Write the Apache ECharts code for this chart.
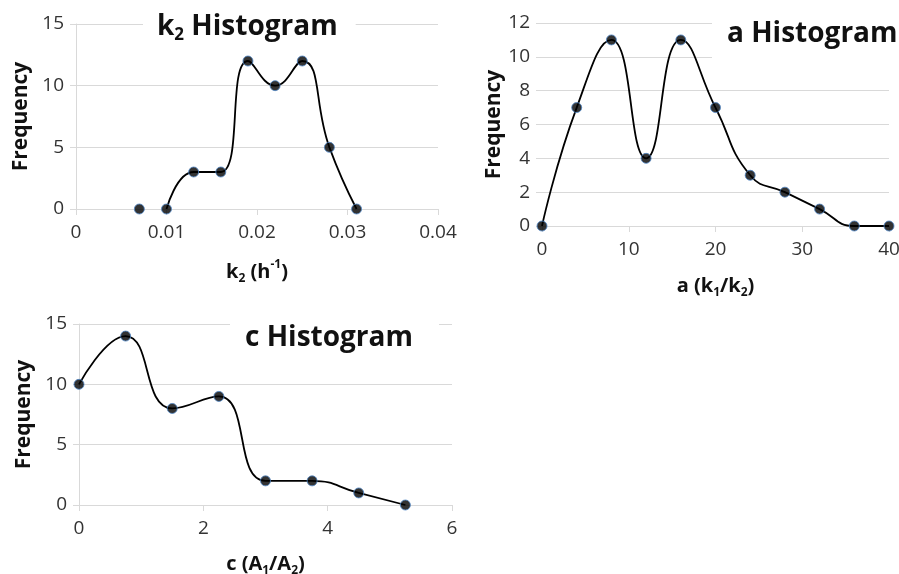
<!DOCTYPE html>
<html>
<head>
<meta charset="utf-8">
<script src="https://cdn.jsdelivr.net/npm/echarts@6/dist/echarts.min.js"></script>
<style>
html, body { margin: 0; padding: 0; background: #fff; }
#chart { width: 899px; height: 574px; }
</style>
</head>
<body>
<div id="chart"></div>
<script>
// k2 histogram (first bin is not joined to the curve)
const k2Bins = [0.007, 0.010, 0.013, 0.016, 0.019, 0.022, 0.025, 0.028, 0.031]
const k2Freq = [0, 0, 3, 3, 12, 10, 12, 5, 0]
// a histogram
const aBins = [0, 4, 8, 12, 16, 20, 24, 28, 32, 36, 40]
const aFreq = [0, 7, 11, 4, 11, 7, 3, 2, 1, 0, 0]
// c histogram
const cBins = [0, 0.75, 1.5, 2.25, 3, 3.75, 4.5, 5.25]
const cFreq = [10, 14, 8, 9, 2, 2, 1, 0]

const FONT = '"Open Sans", sans-serif'
const GRID_COLOR = '#d9d9d9'
const TEXT_COLOR = '#333'

const pairs = (xs, ys) => xs.map((x, i) => [x, ys[i]])

function richStyle(size) {
    const small = Math.round(size * 0.62)
    return {
        b: { fontFamily: FONT, fontWeight: 'bold', fontSize: size, color: '#111', lineHeight: size + 6 },
        sub: { fontFamily: FONT, fontWeight: 'bold', fontSize: small, color: '#111',
               lineHeight: small, verticalAlign: 'bottom' },
        sup: { fontFamily: FONT, fontWeight: 'bold', fontSize: small, color: '#111',
               lineHeight: small, verticalAlign: 'top' }
    }
}

function xAxis(idx, min, max, interval, name, gap) {
    return {
        type: 'value', gridIndex: idx, min: min, max: max, interval: interval,
        name: name, nameLocation: 'middle', nameGap: gap,
        nameTextStyle: { rich: richStyle(20) },
        axisLine: { show: true, lineStyle: { color: GRID_COLOR, width: 1 } },
        axisTick: { show: true, length: 6, lineStyle: { color: GRID_COLOR } },
        axisLabel: { fontFamily: FONT, fontSize: 19, color: TEXT_COLOR, margin: 14 },
        splitLine: { show: false }
    }
}

function yAxis(idx, max, interval, gap, showLine) {
    return {
        type: 'value', gridIndex: idx, min: 0, max: max, interval: interval,
        name: 'Frequency', nameLocation: 'middle', nameGap: gap,
        nameTextStyle: { fontFamily: FONT, fontWeight: 'bold', fontSize: 21, color: '#111' },
        axisLine: { show: showLine, lineStyle: { color: GRID_COLOR, width: 1 } },
        axisTick: { show: true, length: 6, lineStyle: { color: GRID_COLOR } },
        axisLabel: { fontFamily: FONT, fontSize: 19, color: TEXT_COLOR, margin: 12 },
        splitLine: { show: true, lineStyle: { color: GRID_COLOR, width: 1 } }
    }
}

function curve(idx, data) {
    return {
        type: 'line', xAxisIndex: idx, yAxisIndex: idx, data: data,
        smooth: 0.5, symbol: 'none',
        lineStyle: { color: '#000', width: 1.8 }, z: 3
    }
}

function dots(idx, data) {
    return {
        type: 'scatter', xAxisIndex: idx, yAxisIndex: idx, data: data,
        symbol: 'circle', symbolSize: 10,
        itemStyle: { color: '#000', borderColor: '#4f86c6', borderWidth: 1 }, z: 4
    }
}

function title(text, left, top, padding) {
    return {
        text: text, left: left, top: top, padding: padding,
        backgroundColor: '#fff',
        textStyle: { fontFamily: FONT, fontWeight: 'bold', fontSize: 28, color: '#111',
                     rich: richStyle(28) }
    }
}

const chart = echarts.init(document.getElementById('chart'))

const k2Points = pairs(k2Bins, k2Freq)

chart.setOption({
    animation: false,
    backgroundColor: '#fff',
    title: [
        title('{b|k}{sub|2}{b| Histogram}', 143, 6, [4, 18, 6, 14]),
        title('a Histogram', 712, 11, [9, 40, 24, 15]),
        title('c Histogram', 230, 316, [8, 26, 8, 15])
    ],
    grid: [
        { left: 76, top: 24, width: 362, height: 185, outerBoundsMode: 'none' },
        { left: 542, top: 23, width: 347, height: 203, outerBoundsMode: 'none' },
        { left: 79, top: 324, width: 373, height: 181, outerBoundsMode: 'none' }
    ],
    xAxis: [
        xAxis(0, 0, 0.04, 0.01, '{b|k}{sub|2}{b| (h}{sup|-1}{b|)}', 50),
        xAxis(1, 0, 40, 10, '{b|a (k}{sub|1}{b|/k}{sub|2}{b|)}', 47),
        xAxis(2, 0, 6, 2, '{b|c (A}{sub|1}{b|/A}{sub|2}{b|)}', 46)
    ],
    yAxis: [
        yAxis(0, 15, 5, 44, true),
        yAxis(1, 12, 2, 36, false),
        yAxis(2, 15, 5, 44, true)
    ],
    series: [
        curve(0, k2Points.slice(1)),
        dots(0, k2Points),
        curve(1, pairs(aBins, aFreq)),
        dots(1, pairs(aBins, aFreq)),
        curve(2, pairs(cBins, cFreq)),
        dots(2, pairs(cBins, cFreq))
    ]
})
</script>
</body>
</html>
